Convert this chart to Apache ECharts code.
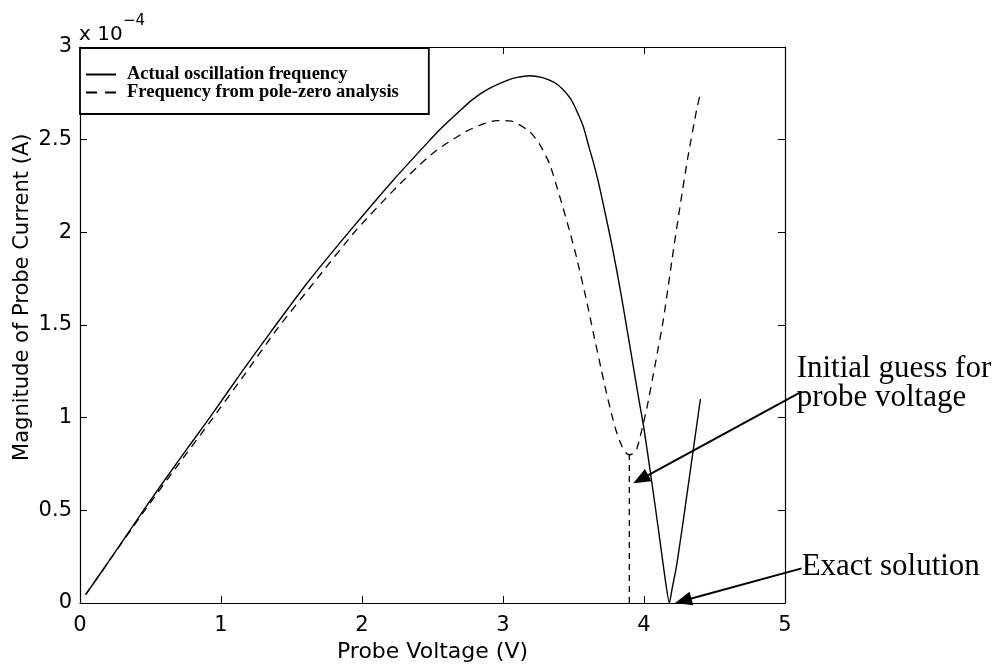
<!DOCTYPE html>
<html><head><meta charset="utf-8">
<script src="https://cdn.jsdelivr.net/npm/echarts@6/dist/echarts.min.js"></script>
<style>html,body{margin:0;padding:0;background:#fff}#c{width:1003px;height:664px}</style>
</head><body><div id="c"></div>
<script>
// Probe voltage (V) and probe current magnitude (units of 1e-4 A)
const actualX = [0.04,0.2,0.45,0.7,0.92,1.15,1.36,1.61,1.92,2.22,2.46,2.56,2.70,2.79,2.90,3.03,3.10,3.19,3.28,3.36,3.42,3.48,3.52,3.57,3.61,3.64,3.68,3.72,3.77,3.81,3.85,3.89,3.93,3.97,4.00,4.05,4.10,4.15,4.18,4.20,4.23,4.27,4.30,4.35,4.40];
const actualY = [0.045,0.22,0.50,0.77,1.00,1.25,1.47,1.725,2.013,2.28,2.48,2.56,2.66,2.72,2.775,2.82,2.836,2.845,2.835,2.81,2.775,2.72,2.66,2.57,2.46,2.38,2.26,2.12,1.94,1.78,1.61,1.43,1.25,1.07,0.94,0.68,0.41,0.13,0.0,0.08,0.196,0.40,0.56,0.83,1.10];
const poleX = [0.04,0.2,0.45,0.7,0.92,1.15,1.40,1.655,1.96,2.25,2.46,2.55,2.74,2.86,2.955,3.07,3.19,3.26,3.33,3.40,3.475,3.52,3.593,3.64,3.70,3.735,3.77,3.80,3.83,3.853,3.875,3.896,3.92,3.948,3.98,4.02,4.08,4.137,4.20,4.255,4.31,4.373,4.40];
const poleY = [0.045,0.22,0.49,0.75,0.975,1.215,1.48,1.725,2.013,2.247,2.40,2.455,2.545,2.585,2.603,2.598,2.543,2.475,2.37,2.20,2.00,1.87,1.63,1.46,1.25,1.13,1.02,0.935,0.87,0.83,0.808,0.80,0.805,0.83,0.92,1.05,1.29,1.527,1.86,2.138,2.40,2.66,2.75];
const guessX = [3.896, 3.896];
const guessY = [0, 0.80];
const xTicks = [0, 1, 2, 3, 4, 5];
const yTicks = [0, 0.5, 1, 1.5, 2, 2.5, 3];
const seriesNames = ['Actual oscillation frequency', 'Frequency from pole-zero analysis'];
const xTitle = 'Probe Voltage (V)';
const yTitle = 'Magnitude of Probe Current (A)';
const annoText1 = ['Initial guess for', 'probe voltage'];
const annoFrom1 = [5.118, 1.14];
const annoTo1 = [3.924, 0.646];
const annoText2 = ['Exact solution'];
const annoFrom2 = [5.118, 0.187];
const annoTo2 = [4.22, 0.0];

const zip = (a, b) => a.map((v, i) => [v, b[i]]);
const chart = echarts.init(document.getElementById('c'), null, {renderer: 'canvas'});
const black = '#000';
const sans = 'DejaVu Sans';
const serif = 'Liberation Serif';
const xStep = xTicks[1] - xTicks[0];
const yStep = yTicks[1] - yTicks[0];

function mkX(pos, labels) {
  return {
    type: 'value', position: pos, min: xTicks[0], max: xTicks[xTicks.length - 1], interval: xStep,
    axisLine: {show: true, onZero: false, lineStyle: {color: black, width: 1.2}},
    axisTick: {show: true, inside: true, length: 7, lineStyle: {color: black, width: 1}},
    axisLabel: {show: labels, color: black, fontSize: 21, fontFamily: sans, margin: 12},
    splitLine: {show: false}
  };
}
function mkY(pos, labels) {
  return {
    type: 'value', position: pos, min: yTicks[0], max: yTicks[yTicks.length - 1], interval: yStep,
    axisLine: {show: true, onZero: false, lineStyle: {color: black, width: 1.2}},
    axisTick: {show: true, inside: true, length: 7, lineStyle: {color: black, width: 1}},
    axisLabel: {show: labels, color: black, fontSize: 21, fontFamily: sans, margin: 8},
    splitLine: {show: false}
  };
}
const xb = mkX('bottom', true);
xb.name = xTitle; xb.nameLocation = 'middle'; xb.nameGap = 36;
xb.nameTextStyle = {color: black, fontSize: 22, fontFamily: sans};

const option = {
  animation: false,
  backgroundColor: '#fff',
  grid: {left: 80, right: 218, top: 47, bottom: 61, containLabel: false, outerBoundsMode: 'none'},
  xAxis: [xb, mkX('top', false)],
  yAxis: [mkY('left', true), mkY('right', false)],
  legend: {
    data: [{name: seriesNames[0]}, {name: seriesNames[1], lineStyle: {type: [11, 8]}}],
    orient: 'vertical', left: 80, top: 48,
    itemWidth: 30, itemHeight: 14, itemGap: -1,
    padding: [17, 30, 12, 5],
    backgroundColor: '#fff', borderColor: black, borderWidth: 1.8, borderRadius: 0,
    itemStyle: {color: 'transparent', borderColor: 'transparent', borderWidth: 0},
    textStyle: {fontFamily: serif, fontWeight: 'bold', fontSize: 18.5, color: black, padding: [0, 0, 0, 6]}
  },
  series: [
    {name: seriesNames[0], type: 'line', data: zip(actualX, actualY), showSymbol: false, symbol: 'none',
     smooth: 0.2,
     lineStyle: {color: black, width: 1.4, type: 'solid'}, itemStyle: {color: black}, z: 3},
    {name: seriesNames[1], type: 'line', data: zip(poleX, poleY), showSymbol: false, symbol: 'none',
     smooth: 0.2,
     lineStyle: {color: black, width: 1.3, type: [8, 6]}, itemStyle: {color: black}, z: 3},
    {name: 'guess', type: 'line', data: zip(guessX, guessY), showSymbol: false, symbol: 'none',
     lineStyle: {color: black, width: 1.3, type: [6, 5]}, itemStyle: {color: black}, z: 3}
  ]
};
chart.setOption(option);

const toPx = p => chart.convertToPixel({xAxisIndex: 0, yAxisIndex: 0}, p);
const graphics = [];
function arrow(from, to) {
  const p0 = toPx(from), p1 = toPx(to);
  const dx = p1[0] - p0[0], dy = p1[1] - p0[1];
  const L = Math.hypot(dx, dy), ux = dx / L, uy = dy / L;
  const hl = 17, hw = 7;
  const bx = p1[0] - ux * hl, by = p1[1] - uy * hl;
  graphics.push({type: 'line', silent: true, z: 10,
    shape: {x1: p0[0], y1: p0[1], x2: bx + ux * 2, y2: by + uy * 2},
    style: {stroke: black, lineWidth: 2}});
  graphics.push({type: 'polygon', silent: true, z: 10,
    shape: {points: [[p1[0], p1[1]], [bx - uy * hw, by + ux * hw], [bx + uy * hw, by - ux * hw]]},
    style: {fill: black}});
  return p0;
}
function txt(x, y, s, size, family) {
  graphics.push({type: 'text', silent: true, z: 10, x: x, y: y,
    style: {text: s, fill: black, font: size + 'px "' + family + '"', textAlign: 'left', textVerticalAlign: 'middle'}});
}
const a1 = arrow(annoFrom1, annoTo1);
txt(a1[0] - 5, a1[1] - 23, annoText1[0], 31, serif);
txt(a1[0] - 5, a1[1] + 6, annoText1[1], 31, serif);
const a2 = arrow(annoFrom2, annoTo2);
txt(a2[0], a2[1] - 1, annoText2[0], 31, serif);

// exponent multiplier above y axis
txt(79, 35, 'x 10', 20, sans);
txt(123, 21, '\u22124', 15, sans);
// y axis title
const mid = toPx([0, 1.65]);
graphics.push({type: 'text', silent: true, x: 23, y: mid[1], rotation: Math.PI / 2,
  style: {text: yTitle, fill: black, font: '21px "' + sans + '"', textAlign: 'center', textVerticalAlign: 'middle'}});

chart.setOption({graphic: graphics});
</script>
</body></html>
